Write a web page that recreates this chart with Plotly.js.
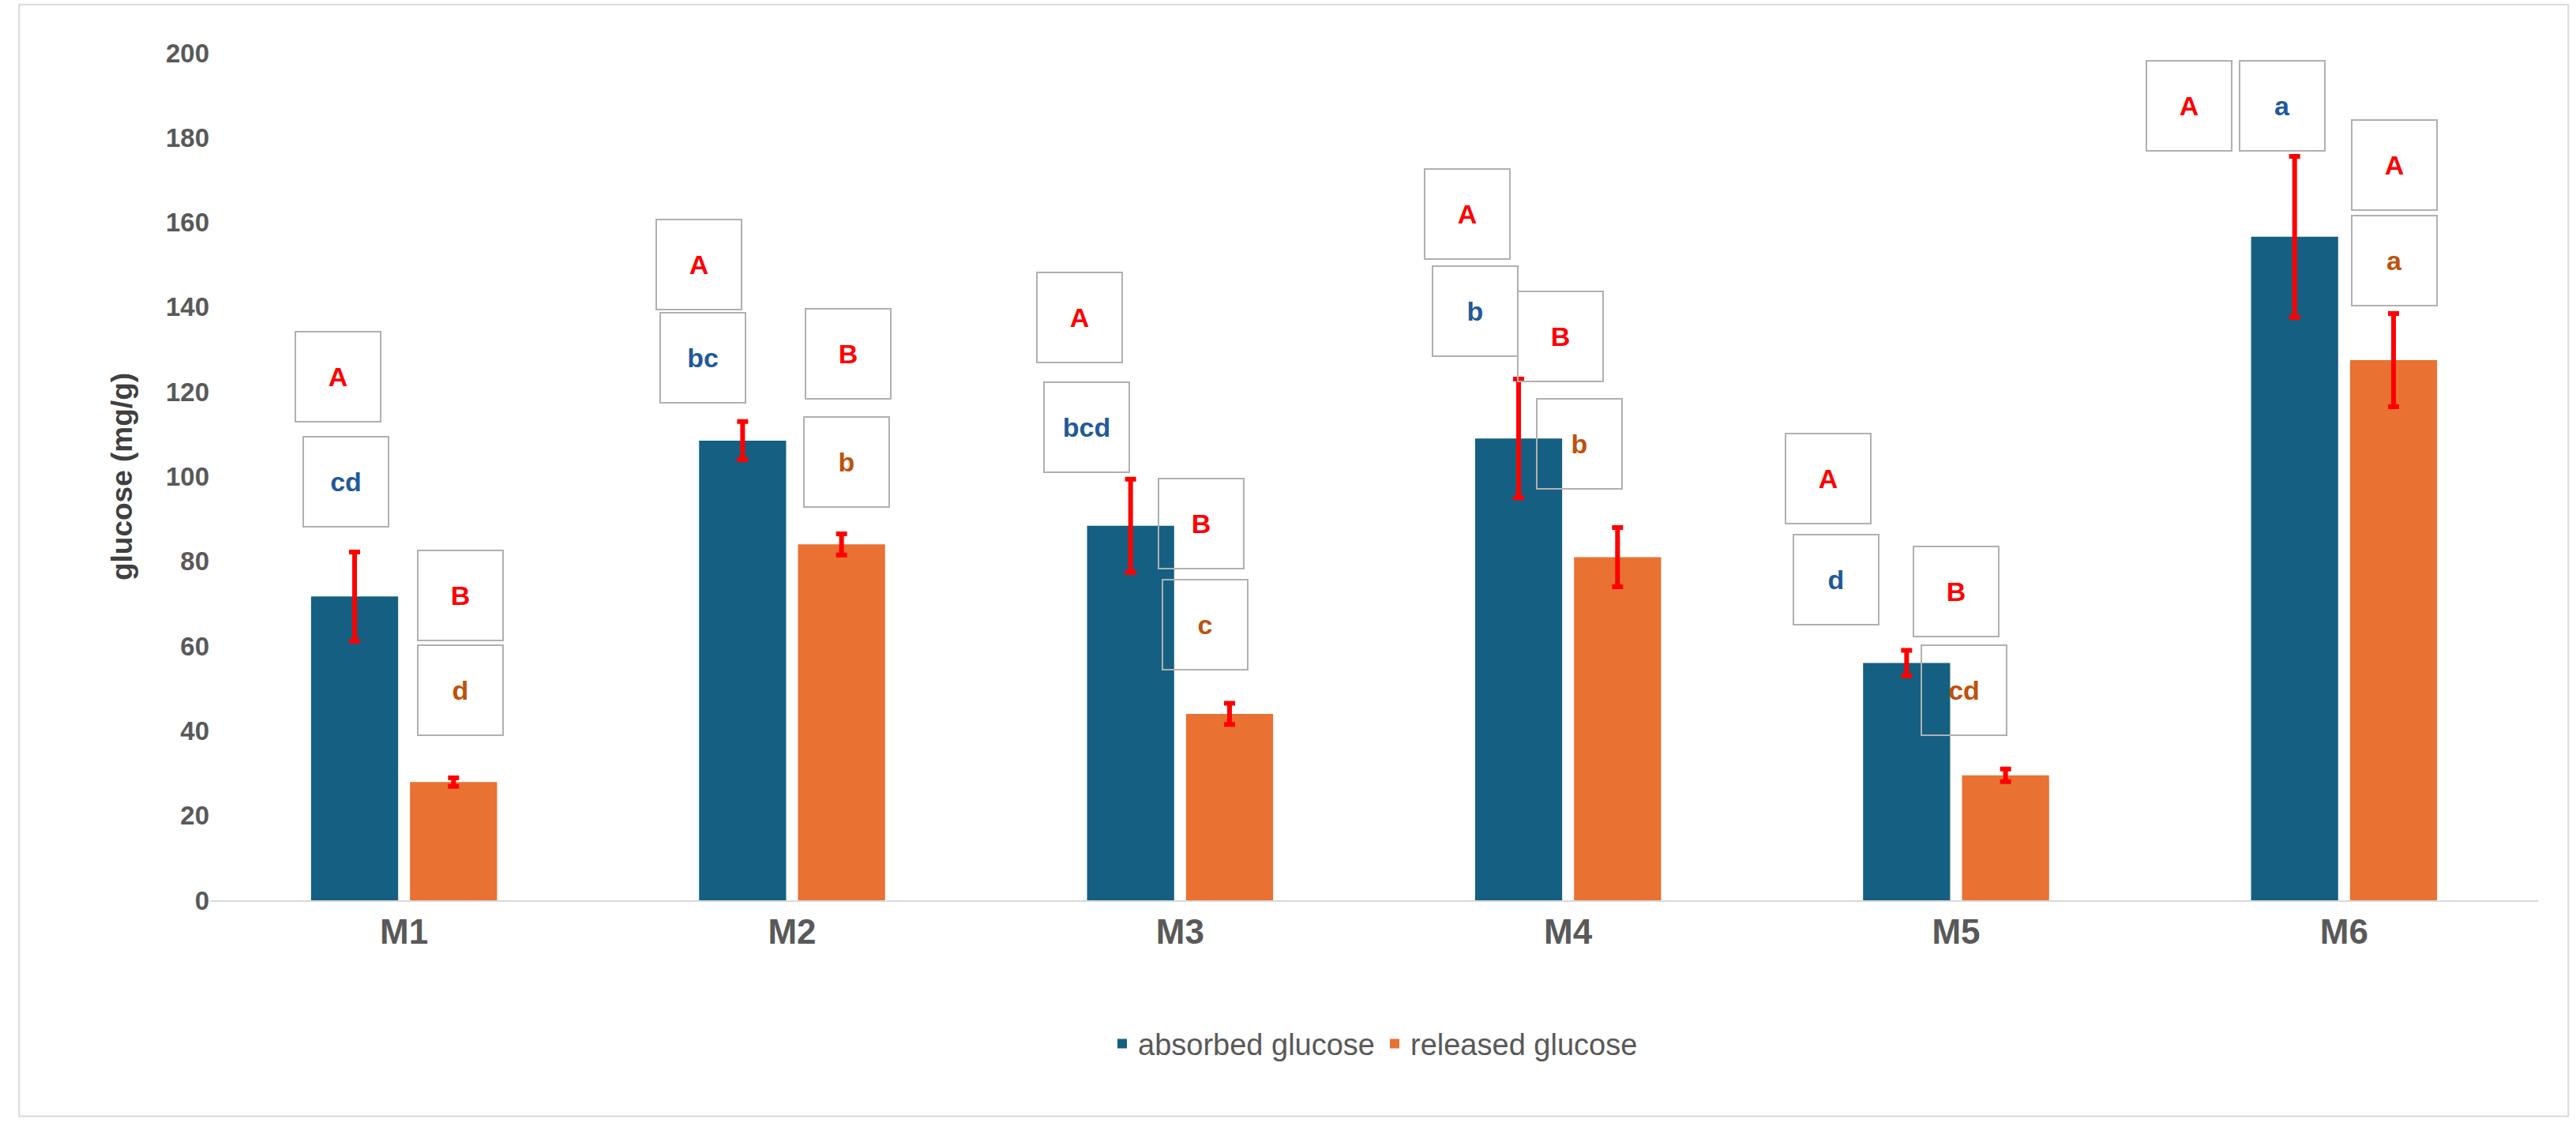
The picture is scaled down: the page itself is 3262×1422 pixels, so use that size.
<!DOCTYPE html>
<html><head><meta charset="utf-8">
<script src="https://cdn.plot.ly/plotly-3.0.1.min.js"></script>
<style>html,body{margin:0;padding:0;background:#fff}#chart{width:3262px;height:1422px}</style>
</head><body><div id="chart"></div>
<script>
const categories = ['M1', 'M2', 'M3', 'M4', 'M5', 'M6'];
const absorbed = [71.7, 108.5, 88.4, 109, 56, 156.6];
const absorbedErr = [10.5, 4.5, 11, 14, 3, 19];
const released = [27.9, 84, 44, 81, 29.5, 127.5];
const releasedErr = [1, 2.5, 2.5, 7, 1.5, 11];

// letter labels: [category index, offset, y, text, colour]
const letters = [
    [0, -0.17, 123.6, 'A', 'red'], [0, -0.15, 98.8, 'cd', 'blue'],
    [0, 0.145, 72, 'B', 'red'], [0, 0.145, 49.6, 'd', 'orange'],
    [1, -0.24, 150, 'A', 'red'], [1, -0.23, 128, 'bc', 'blue'],
    [1, 0.145, 129, 'B', 'red'], [1, 0.14, 103.5, 'b', 'orange'],
    [2, -0.26, 137.6, 'A', 'red'], [2, -0.24, 111.6, 'bcd', 'blue'],
    [2, 0.055, 89, 'B', 'red'], [2, 0.065, 65, 'c', 'orange'],
    [3, -0.26, 162, 'A', 'red'], [3, -0.24, 139, 'b', 'blue'],
    [3, -0.02, 133, 'B', 'red'], [3, 0.03, 107.7, 'b', 'orange'],
    [4, -0.33, 99.6, 'A', 'red'], [4, -0.31, 75.6, 'd', 'blue'],
    [4, 0.0, 72.9, 'B', 'red'], [4, 0.02, 49.6, 'cd', 'orange'],
    [5, -0.40, 187.6, 'A', 'red'], [5, -0.16, 187.6, 'a', 'blue'],
    [5, 0.13, 173.6, 'A', 'red'], [5, 0.13, 151, 'a', 'orange']
];
const letterColors = {red: '#ff0000', blue: '#1f5a9a', orange: '#c0510a'};

const errStyle = {type: 'data', visible: true, color: '#ff0000', thickness: 6, width: 7};

const traces = [
    {type: 'bar', name: 'absorbed glucose', x: categories, y: absorbed, marker: {color: '#156082'},
     error_y: Object.assign({array: absorbedErr}, errStyle)},
    {type: 'bar', name: 'released glucose', x: categories, y: released, marker: {color: '#e97132'},
     error_y: Object.assign({array: releasedErr}, errStyle)}
];

const annotations = letters.map(l => ({
    x: l[0] + l[1], y: l[2], xref: 'x', yref: 'y', text: l[3], showarrow: false,
    font: {family: 'Liberation Sans, Arial', size: 34, color: letterColors[l[4]], weight: 'bold'},
    bordercolor: '#b0b0b0', borderwidth: 2, bgcolor: 'rgba(255,255,255,0)',
    width: 104, height: 110
}));

const layout = {
    width: 3262, height: 1422,
    margin: {l: 266, r: 48, t: 67, b: 282},
    barmode: 'group', bargap: 0.49, bargroupgap: 0.12,
    font: {family: 'Liberation Sans, Arial', color: '#595959'},
    xaxis: {type: 'category', showline: true, linecolor: '#d9d9d9', linewidth: 2, ticks: '',
            tickfont: {size: 44, color: '#595959', weight: 'bold'}, range: [-0.5, 5.5]},
    yaxis: {range: [0, 200], dtick: 20, showgrid: false, zeroline: false, ticks: '',
            tickfont: {size: 33, color: '#595959', weight: 'bold'},
            title: {text: 'glucose (mg/g)', font: {size: 37, color: '#404040', weight: 'bold'}, standoff: 30}},
    legend: {orientation: 'h', x: 0.5, xanchor: 'center', y: -0.14, yanchor: 'top',
             font: {size: 38, color: '#595959'}},
    annotations: annotations,
    shapes: [{type: 'rect', xref: 'paper', yref: 'paper', x0: -0.082, x1: 1.013, y0: -0.255, y1: 1.057,
              line: {color: '#d9d9d9', width: 2}}],
    plot_bgcolor: '#fff', paper_bgcolor: '#fff'
};

Plotly.newPlot('chart', traces, layout, {displayModeBar: false});
</script></body></html>
